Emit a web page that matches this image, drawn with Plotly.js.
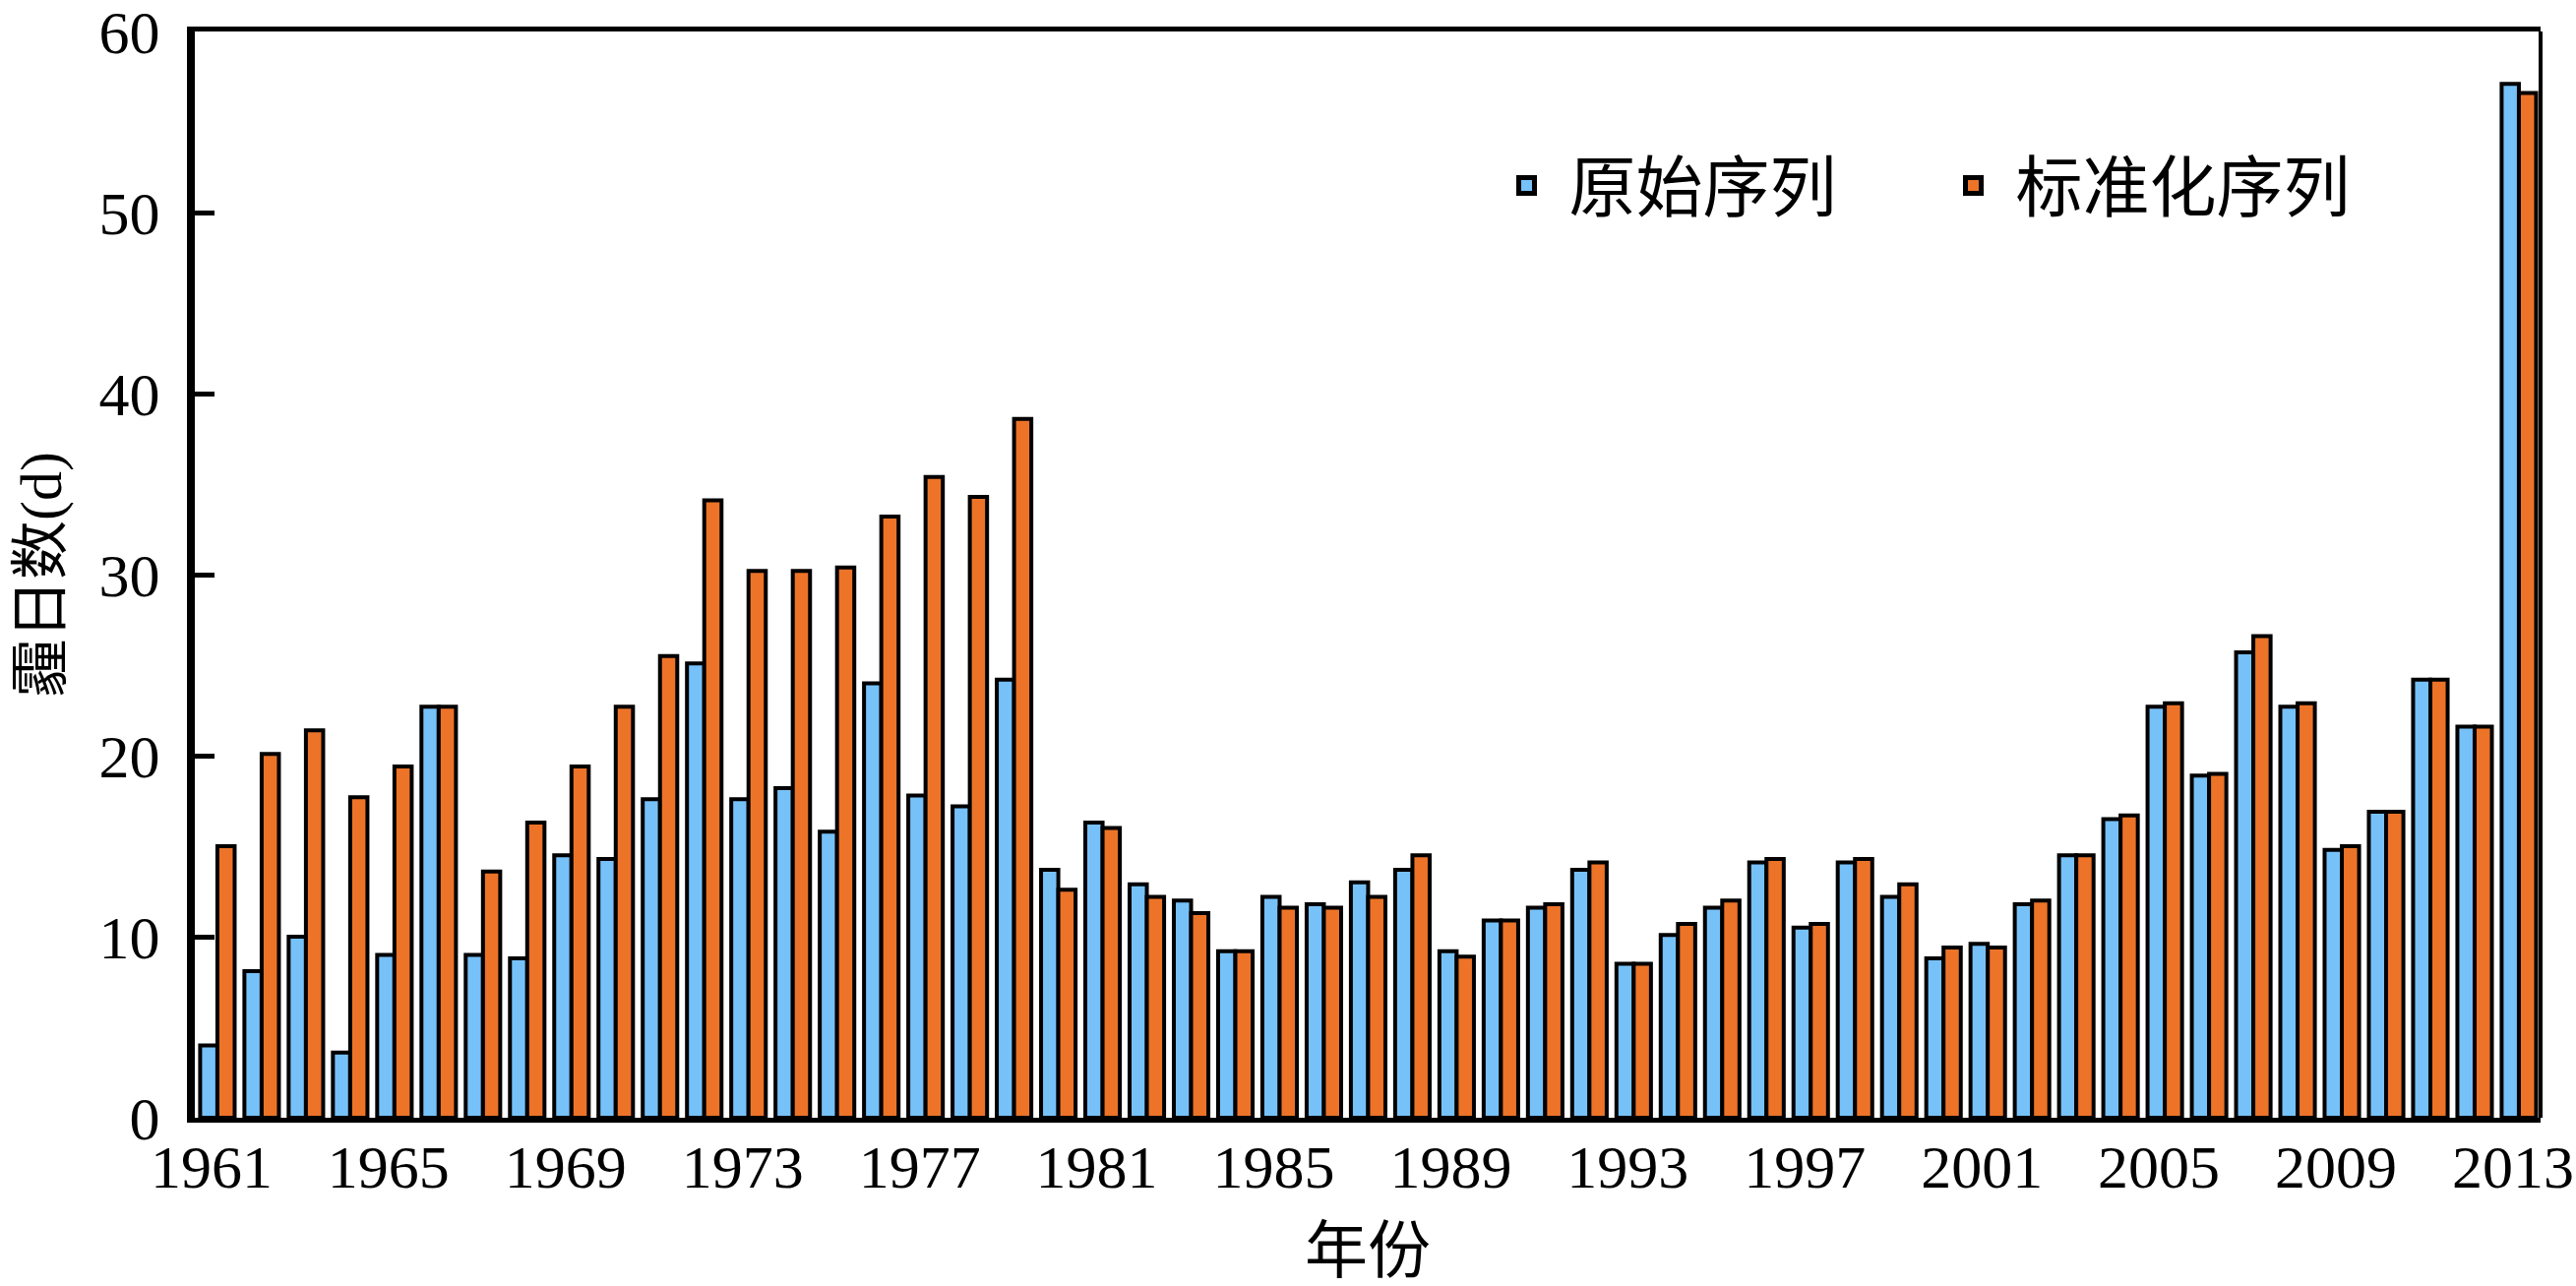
<!DOCTYPE html>
<html>
<head>
<meta charset="utf-8">
<script src="https://cdn.plot.ly/plotly-3.0.1.min.js"></script>
<style>
  html, body { margin: 0; padding: 0; background: #fff; }
  #chart { width: 2618px; height: 1307px; }
</style>
</head>
<body>
<div id="chart"></div>
<script>
// 年份 1961-2013
const years = [
  "1961","1962","1963","1964","1965","1966","1967","1968","1969","1970",
  "1971","1972","1973","1974","1975","1976","1977","1978","1979","1980",
  "1981","1982","1983","1984","1985","1986","1987","1988","1989","1990",
  "1991","1992","1993","1994","1995","1996","1997","1998","1999","2000",
  "2001","2002","2003","2004","2005","2006","2007","2008","2009","2010",
  "2011","2012","2013"
];
// 原始序列
const rawDays = [
  4.0, 8.1, 10.0, 3.6, 9.0, 22.7, 9.0, 8.8, 14.5, 14.3,
  17.6, 25.1, 17.6, 18.2, 15.8, 24.0, 17.8, 17.2, 24.2, 13.7,
  16.3, 12.9, 12.0, 9.2, 12.2, 11.8, 13.0, 13.7, 9.2, 10.9,
  11.6, 13.7, 8.5, 10.1, 11.6, 14.1, 10.5, 14.1, 12.2, 8.8,
  9.6, 11.8, 14.5, 16.5, 22.7, 18.9, 25.7, 22.7, 14.8, 16.9,
  24.2, 21.6, 57.1
];
// 标准化序列
const stdDays = [
  15.0, 20.1, 21.4, 17.7, 19.4, 22.7, 13.6, 16.3, 19.4, 22.7,
  25.5, 34.1, 30.2, 30.2, 30.4, 33.2, 35.4, 34.3, 38.6, 12.6,
  16.0, 12.2, 11.3, 9.2, 11.6, 11.6, 12.2, 14.5, 8.9, 10.9,
  11.8, 14.1, 8.5, 10.7, 12.0, 14.3, 10.7, 14.3, 12.9, 9.4,
  9.4, 12.0, 14.5, 16.7, 22.9, 19.0, 26.6, 22.9, 15.0, 16.9,
  24.2, 21.6, 56.6
];
const xTicks = years.filter((y, i) => i % 4 === 0);
const yTicks = [0, 10, 20, 30, 40, 50, 60];

const C = { blue: "#77c1f9", orange: "#ec7328", ink: "#000" };
const serif = "Liberation Serif, Noto Sans CJK SC, serif";

const traces = [
  { x: years, y: rawDays, type: "bar", name: "原始序列", showlegend: false,
    marker: { color: C.blue, line: { color: C.ink, width: 4 } } },
  { x: years, y: stdDays, type: "bar", name: "标准化序列", showlegend: false,
    marker: { color: C.orange, line: { color: C.ink, width: 4 } } },
  // legend entries only
  { x: [null], y: [null], type: "scatter", mode: "markers", name: "原始序列",
    marker: { symbol: "square", size: 16, color: C.blue, line: { color: C.ink, width: 5 } } },
  { x: [null], y: [null], type: "scatter", mode: "markers", name: "标准化序列",
    marker: { symbol: "square", size: 16, color: C.orange, line: { color: C.ink, width: 5 } } }
];

const layout = {
  width: 2618, height: 1307,
  margin: { l: 198, r: 36, t: 32, b: 171 },
  paper_bgcolor: "#fff", plot_bgcolor: "#fff",
  font: { family: serif, color: C.ink, size: 62 },
  barmode: "group", bargap: 0.22, bargroupgap: 0,
  showlegend: true,
  legend: {
    orientation: "h", x: 0.5497, y: 0.858, xanchor: "left", yanchor: "middle",
    bgcolor: "rgba(0,0,0,0)", font: { family: serif, size: 68 },
    itemwidth: 76, entrywidth: 363, entrywidthmode: "pixels"
  },
  xaxis: {
    type: "category", range: [-0.51, 52.49],
    tickmode: "array", tickvals: xTicks, ticktext: xTicks,
    ticks: "", showgrid: false, zeroline: false,
    showline: true, linecolor: C.ink, linewidth: 5, mirror: true,
    tickfont: { family: serif, size: 62 }, ticklabelstandoff: -8, ticklabelshift: -6,
    ticklabeloverflow: "allow",
    title: { text: "年份", font: { family: serif, size: 64 }, standoff: 68 }
  },
  yaxis: {
    range: [0, 60], tickmode: "array", tickvals: yTicks,
    ticks: "inside", ticklen: 20, tickwidth: 5, tickcolor: C.ink,
    showgrid: false, zeroline: false,
    showline: true, linecolor: C.ink, linewidth: 8,
    tickfont: { family: serif, size: 62 }, ticklabelstandoff: 15,
    ticklabeloverflow: "allow",
    title: { text: "霾日数(d)", font: { family: serif, size: 60 }, standoff: 22 }
  },
  shapes: [
    { type: "line", xref: "paper", yref: "paper", x0: 1, x1: 1, y0: 0, y1: 1,
      line: { color: C.ink, width: 4 } }
  ]
};

Plotly.newPlot("chart", traces, layout, { displayModeBar: false, responsive: false });
</script>
</body>
</html>
